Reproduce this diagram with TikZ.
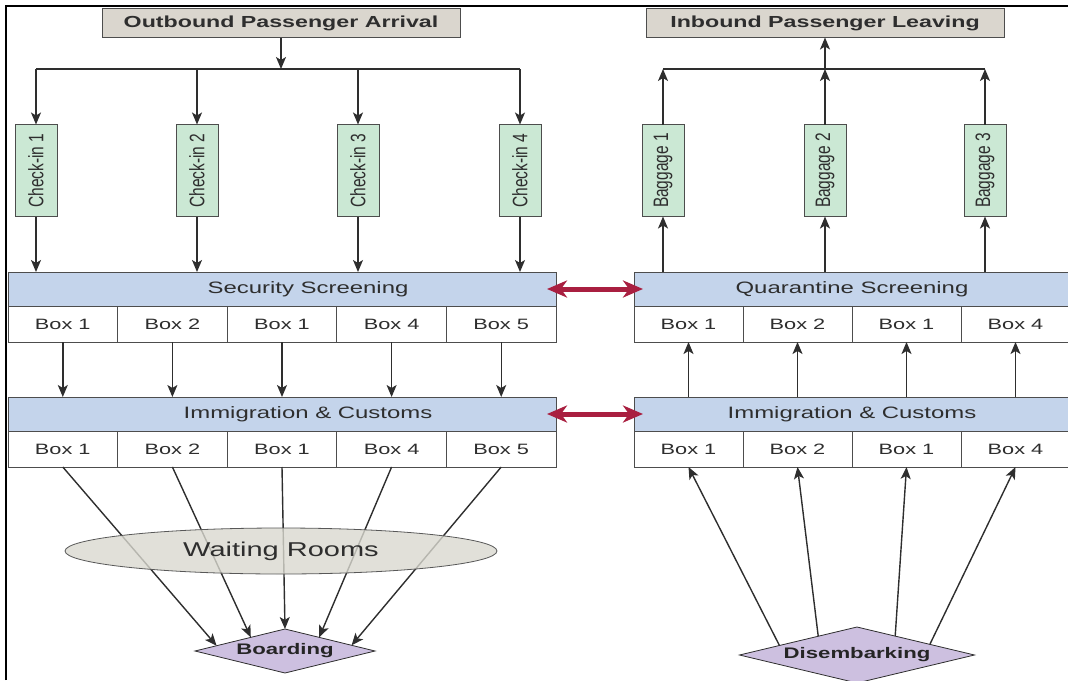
\documentclass[tikz,border=0pt]{standalone}
\usepackage{fontspec}
\setmainfont{Liberation Sans}
\newfontfamily\widefont{Liberation Sans}[FakeStretch=1.45]
\usepackage{tikz}
\usetikzlibrary{arrows.meta,shapes.geometric,calc}

\definecolor{hdrgray}{HTML}{DAD6CE}
\definecolor{chkgreen}{HTML}{CBE8D4}
\definecolor{barblue}{HTML}{C4D4EB}
\definecolor{gatepurple}{HTML}{CDC0E0}
\definecolor{linegray}{HTML}{2E2E2E}
\definecolor{linkred}{HTML}{A91F40}
\definecolor{roomgray}{HTML}{D9D8CF}

\newcommand{\uplabel}[1]{\rotatebox{90}{\scalebox{1}[1.35]{#1}}}

\begin{document}
\begin{tikzpicture}[
            x = 1pt, y = -1pt, % pixel grid, y goes down
            > = {Stealth[length=12pt,width=10pt,inset=3pt]}, % arrow head style
            every node/.style = {inner sep=0pt, outer sep=0pt},
            conn/.style = {->, draw=linegray, line width=1.4pt},
            link/.style = {<->, > = {Stealth[length=20pt,width=17pt,inset=6pt]},
                draw=linkred, line width=5pt, shorten <=-9pt, shorten >=-9pt}
        ]

        \tikzstyle{hdr}=[
            draw = linegray!85, thick, fill = hdrgray, text = linegray,
            minimum width = 358pt, minimum height = 29pt,
            font = \widefont\bfseries\fontsize{16}{19}\selectfont
        ]
        \tikzstyle{chk}=[
            draw = linegray!85, thick, fill = chkgreen, text = linegray,
            minimum width = 42pt, minimum height = 92pt,
            font = \fontsize{15.5}{18}\selectfont
        ]
        \tikzstyle{bar}=[
            draw = linegray!85, thick, fill = barblue,
            minimum height = 34pt
        ]
        \tikzstyle{bartext}=[
            text = linegray, font = \widefont\fontsize{16.5}{19}\selectfont
        ]
        \tikzstyle{cell}=[
            draw = linegray!85, thick, fill = white, text = linegray,
            minimum width = 109.6pt, minimum height = 36pt,
            font = \widefont\fontsize{15}{18}\selectfont
        ]
        \tikzstyle{gate}=[
            diamond, aspect = 4, draw = linegray, thick, fill = gatepurple,
            text = linegray!80!black, font = \widefont\bfseries\fontsize{15.3}{18}\selectfont
        ]

        \useasboundingbox (0,0) rectangle (1068,680);

        % frame
        \draw[line width=1.2pt] (6,680) -- (6,6) -- (1068,6);

        % Headers
        \node[hdr] (obd) [at={(281,23)}] {Outbound Passenger Arrival};
        \node[hdr] (ibd) [at={(825,23)}] {Inbound Passenger Leaving};
        \coordinate (sp) at (281,69);
        \coordinate (jr) at (825,69);

        % Check-in and baggage
        \node[chk] (ck1) [at={(36,170.5)}] {\uplabel{Check-in 1}};
        \node[chk] (ck2) [at={(197,170.5)}] {\uplabel{Check-in 2}};
        \node[chk] (ck3) [at={(358,170.5)}] {\uplabel{Check-in 3}};
        \node[chk] (ck4) [at={(520,170.5)}] {\uplabel{Check-in 4}};
        \node[chk] (bg1) [at={(663,170.5)}] {\uplabel{Baggage 1}};
        \node[chk] (bg2) [at={(825,170.5)}] {\uplabel{Baggage 2}};
        \node[chk] (bg3) [at={(985,170.5)}] {\uplabel{Baggage 3}};

        % Screening rows
        \node[bar, minimum width=548pt, label={[bartext, xshift=26pt]center:Security Screening}] (secbar) [at={(282,289)}] {};
        \node[cell] (sb1) [at={(62.8,324)}] {Box 1};
        \node[cell] (sb2) [at={(172.4,324)}] {Box 2};
        \node[cell] (sb3) [at={(282,324)}] {Box 1};
        \node[cell] (sb4) [at={(391.6,324)}] {Box 4};
        \node[cell] (sb5) [at={(501.2,324)}] {Box 5};
        \node[bar, minimum width=436pt, label={[bartext]center:Quarantine Screening}] (quabar) [at={(852,289)}] {};
        \node[cell, minimum width=109pt] (qb1) [at={(688.5,324)}] {Box 1};
        \node[cell, minimum width=109pt] (qb2) [at={(797.5,324)}] {Box 2};
        \node[cell, minimum width=109pt] (qb3) [at={(906.5,324)}] {Box 1};
        \node[cell, minimum width=109pt] (qb4) [at={(1015.5,324)}] {Box 4};

        % Immigration rows
        \node[bar, minimum width=548pt, label={[bartext, xshift=26pt]center:Immigration \& Customs}] (imml) [at={(282,414)}] {};
        \node[cell] (ib1) [at={(62.8,449)}] {Box 1};
        \node[cell] (ib2) [at={(172.4,449)}] {Box 2};
        \node[cell] (ib3) [at={(282,449)}] {Box 1};
        \node[cell] (ib4) [at={(391.6,449)}] {Box 4};
        \node[cell] (ib5) [at={(501.2,449)}] {Box 5};
        \node[bar, minimum width=436pt, label={[bartext]center:Immigration \& Customs}] (immr) [at={(852,414)}] {};
        \node[cell, minimum width=109pt] (rb1) [at={(688.5,449)}] {Box 1};
        \node[cell, minimum width=109pt] (rb2) [at={(797.5,449)}] {Box 2};
        \node[cell, minimum width=109pt] (rb3) [at={(906.5,449)}] {Box 1};
        \node[cell, minimum width=109pt] (rb4) [at={(1015.5,449)}] {Box 4};

        % Gates
        \node[gate, minimum width=180pt, minimum height=44pt] (brd) [at={(285,651)}] {Boarding};
        \node[gate, minimum width=235pt, minimum height=56pt] (dsm) [at={(857,655)}] {Disembarking};

        % outbound flow
        \draw[conn] (obd) -- (sp);
        \draw[draw=linegray, line width=1.4pt] (ck1 |- sp) -- (ck4 |- sp);
        \draw[conn] (ck1 |- sp) -- (ck1.north);
        \draw[conn] (ck2 |- sp) -- (ck2.north);
        \draw[conn] (ck3 |- sp) -- (ck3.north);
        \draw[conn] (ck4 |- sp) -- (ck4.north);
        \draw[conn] (ck1.south) -- (ck1.south |- secbar.north);
        \draw[conn] (ck2.south) -- (ck2.south |- secbar.north);
        \draw[conn] (ck3.south) -- (ck3.south |- secbar.north);
        \draw[conn] (ck4.south) -- (ck4.south |- secbar.north);
        \draw[conn] (sb1.south) -- (sb1.south |- imml.north);
        \draw[conn] (sb2.south) -- (sb2.south |- imml.north);
        \draw[conn] (sb3.south) -- (sb3.south |- imml.north);
        \draw[conn] (sb4.south) -- (sb4.south |- imml.north);
        \draw[conn] (sb5.south) -- (sb5.south |- imml.north);
        \draw[conn] (ib1.south) -- ($(brd.west)!0.24!(brd.north)$);
        \draw[conn] (ib2.south) -- ($(brd.west)!0.62!(brd.north)$);
        \draw[conn] (ib3.south) -- (brd.north);
        \draw[conn] (ib4.south) -- ($(brd.east)!0.62!(brd.north)$);
        \draw[conn] (ib5.south) -- ($(brd.east)!0.26!(brd.north)$);

        % inbound flow
        \draw[conn] ($(dsm.west)!0.34!(dsm.north)$) -- (rb1.south);
        \draw[conn] ($(dsm.west)!0.67!(dsm.north)$) -- (rb2.south);
        \draw[conn] ($(dsm.east)!0.675!(dsm.north)$) -- (rb3.south);
        \draw[conn] ($(dsm.east)!0.38!(dsm.north)$) -- (rb4.south);
        \draw[conn] (rb1.north |- immr.north) -- (qb1.south);
        \draw[conn] (rb2.north |- immr.north) -- (qb2.south);
        \draw[conn] (rb3.north |- immr.north) -- (qb3.south);
        \draw[conn] (rb4.north |- immr.north) -- (qb4.south);
        \draw[conn] (bg1 |- quabar.north) -- (bg1.south);
        \draw[conn] (bg2 |- quabar.north) -- (bg2.south);
        \draw[conn] (bg3 |- quabar.north) -- (bg3.south);
        \draw[conn] (bg1.north) -- (bg1 |- jr);
        \draw[conn] (bg2.north) -- (bg2 |- jr);
        \draw[conn] (bg3.north) -- (bg3 |- jr);
        \draw[draw=linegray, line width=1.4pt] (bg1 |- jr) -- (bg3 |- jr);
        \draw[conn] (jr) -- (ibd.south);

        % links between sides
        \draw[link] (secbar.east) -- (quabar.west);
        \draw[link] (imml.east) -- (immr.west);

        % waiting rooms on top of the lines
        \node[ellipse, draw=linegray!80, thick, fill=roomgray, fill opacity=0.8, text opacity=1,
            minimum width=432pt, minimum height=46pt, text=linegray,
            font=\widefont\fontsize{20}{24}\selectfont] (wait) [at={(281,551)}] {Waiting Rooms};
\end{tikzpicture}
\end{document}
